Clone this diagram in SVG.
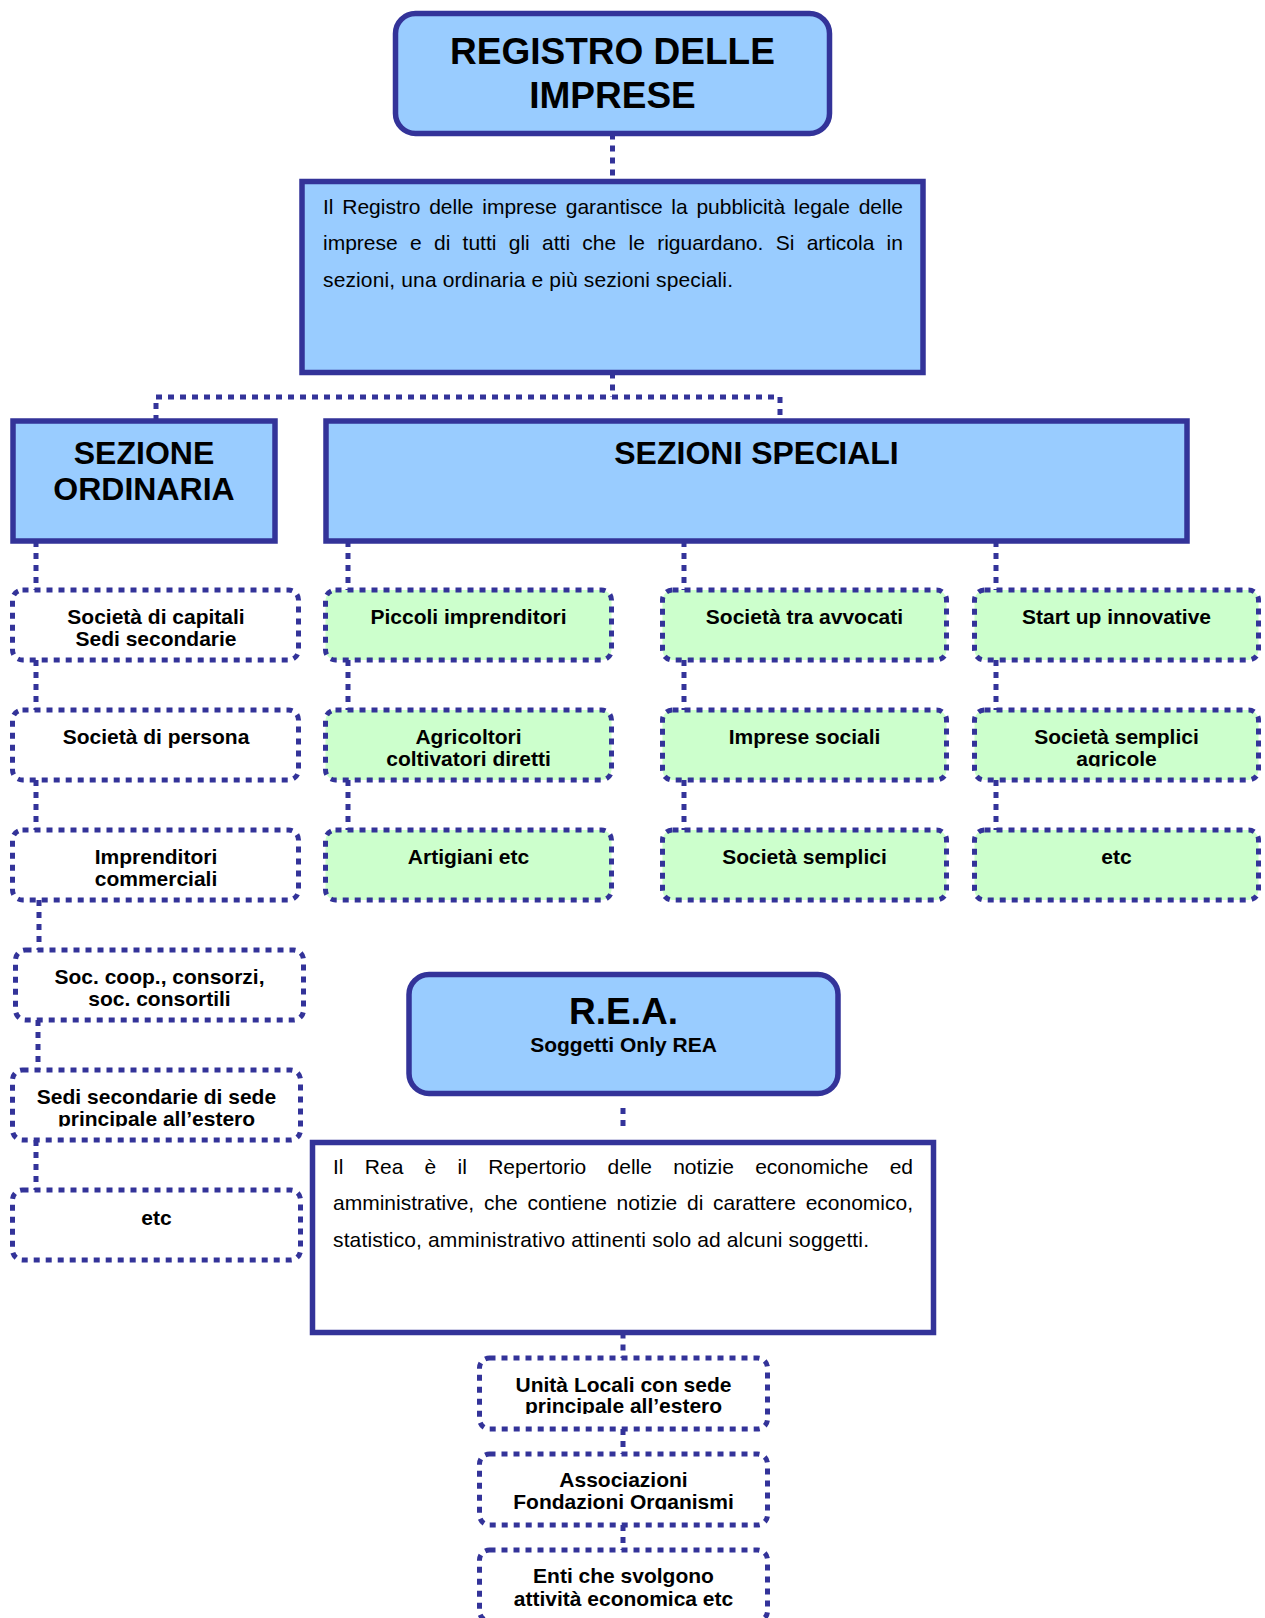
<svg xmlns="http://www.w3.org/2000/svg" width="1265" height="1618" viewBox="0 0 1265 1618">
<style>
.blue{fill:#99CCFF;stroke:#333399;stroke-width:5.5}
.wsq{fill:#FFFFFF;stroke:#333399;stroke-width:5.5}
.dot{fill:none;stroke:#333399;stroke-width:5;stroke-dasharray:6 6}
.wb{fill:#FFFFFF}
.gb{fill:#CCFFCC}
.t{font-family:"Liberation Sans",Arial,sans-serif;font-weight:bold;font-size:21px;text-anchor:middle;fill:#000}
.h{font-family:"Liberation Sans",Arial,sans-serif;font-weight:bold;text-anchor:middle;fill:#000}
.p{font-family:"Liberation Sans",Arial,sans-serif;font-size:21px;fill:#000}
</style>
<defs>
<clipPath id="c1"><rect x="12" y="590" width="288" height="56.5"/></clipPath>
<clipPath id="c2"><rect x="325" y="710" width="288" height="56.5"/></clipPath>
<clipPath id="c3"><rect x="974" y="710" width="288" height="56.5"/></clipPath>
<clipPath id="c4"><rect x="15" y="950" width="290" height="56.5"/></clipPath>
<clipPath id="c5"><rect x="12" y="1070" width="290" height="56.5"/></clipPath>
<clipPath id="c6"><rect x="479" y="1358" width="290" height="56"/></clipPath>
<clipPath id="c7"><rect x="479" y="1454" width="290" height="55.5"/></clipPath>
</defs>
<rect width="1265" height="1618" fill="#FFFFFF"/>
<g id="connectors">
<path class="dot" d="M612.5 133.5V181.5"/>
<path class="dot" d="M612.5 372.5V397"/>
<path class="dot" d="M156 421V397H780V421"/>
<path class="dot" d="M36 541V590M36 660V710M36 780V830M39 900V950M38 1020V1070M36 1140V1190"/>
<path class="dot" d="M348 541V590M348 660V710M348 780V830"/>
<path class="dot" d="M684 541V590M684 660V710M684 780V830"/>
<path class="dot" d="M996 541V590M996 660V710M996 780V830"/>
<path class="dot" d="M623 1108V1126"/>
<path class="dot" d="M623 1332.5V1358M623 1429V1454M623 1525V1550"/>
</g>
<g id="registro">
<rect class="blue" x="395.5" y="13.5" width="434" height="120" rx="20"/>
<text class="h" font-size="37" x="612.5" y="64">REGISTRO DELLE</text>
<text class="h" font-size="37" x="612.5" y="108">IMPRESE</text>
</g>
<g id="registro-desc">
<rect class="blue" x="302" y="181.5" width="621" height="191"/>
<text class="p" y="214"><tspan x="323">Il</tspan><tspan x="342.25">Registro</tspan><tspan x="429.18">delle</tspan><tspan x="482.28">imprese</tspan><tspan x="565.71">garantisce</tspan><tspan x="671.33">la</tspan><tspan x="696.42">pubblicità</tspan><tspan x="793.87">legale</tspan><tspan x="858.65">delle</tspan></text>
<text class="p" y="250"><tspan x="323">imprese</tspan><tspan x="409.98">e</tspan><tspan x="433.96">di</tspan><tspan x="462.6">tutti</tspan><tspan x="508.75">gli</tspan><tspan x="542.05">atti</tspan><tspan x="582.36">che</tspan><tspan x="628.51">le</tspan><tspan x="657.15">riguardano.</tspan><tspan x="775.67">Si</tspan><tspan x="806.64">articola</tspan><tspan x="886.62">in</tspan></text>
<text class="p" x="323" y="287" textLength="410" lengthAdjust="spacing">sezioni, una ordinaria e più sezioni speciali.</text>
</g>
<g id="sezione-ordinaria">
<rect class="blue" x="13" y="421" width="262" height="120"/>
<text class="h" font-size="32" x="144" y="464">SEZIONE</text>
<text class="h" font-size="32" x="144" y="500">ORDINARIA</text>
</g>
<g id="sezioni-speciali">
<rect class="blue" x="326" y="421" width="861" height="120"/>
<text class="h" font-size="32" x="756.5" y="464">SEZIONI SPECIALI</text>
</g>
<g id="o1">
<rect class="dot wb" x="12.5" y="590" width="286" height="70" rx="10"/>
<text class="t" x="156" y="624">Società di capitali</text>
<text class="t" x="156" y="646" clip-path="url(#c1)">Sedi secondarie</text>
</g>
<g id="o2">
<rect class="dot wb" x="12.5" y="710" width="286" height="70" rx="10"/>
<text class="t" x="156" y="744">Società di persona</text>
</g>
<g id="o3">
<rect class="dot wb" x="12.5" y="830" width="286" height="70" rx="10"/>
<text class="t" x="156" y="864">Imprenditori</text>
<text class="t" x="156" y="886">commerciali</text>
</g>
<g id="o4">
<rect class="dot wb" x="15.5" y="950" width="288" height="70" rx="10"/>
<text class="t" x="159.5" y="984">Soc. coop., consorzi,</text>
<text class="t" x="159.5" y="1006" clip-path="url(#c4)">soc. consortili</text>
</g>
<g id="o5">
<rect class="dot wb" x="12.5" y="1070" width="288" height="70" rx="10"/>
<text class="t" x="156.5" y="1104">Sedi secondarie di sede</text>
<text class="t" x="156.5" y="1126" clip-path="url(#c5)">principale all’estero</text>
</g>
<g id="o6">
<rect class="dot wb" x="12.5" y="1190" width="288" height="70" rx="10"/>
<text class="t" x="156.5" y="1225">etc</text>
</g>
<g id="s1">
<rect class="dot gb" x="325.5" y="590" width="286" height="70" rx="10"/>
<text class="t" x="468.5" y="624">Piccoli imprenditori</text>
</g>
<g id="s2">
<rect class="dot gb" x="325.5" y="710" width="286" height="70" rx="10"/>
<text class="t" x="468.5" y="744">Agricoltori</text>
<text class="t" x="468.5" y="766" clip-path="url(#c2)">coltivatori diretti</text>
</g>
<g id="s3">
<rect class="dot gb" x="325.5" y="830" width="286" height="70" rx="10"/>
<text class="t" x="468.5" y="864">Artigiani etc</text>
</g>
<g id="s4">
<rect class="dot gb" x="662.5" y="590" width="284" height="70" rx="10"/>
<text class="t" x="804.5" y="624">Società tra avvocati</text>
</g>
<g id="s5">
<rect class="dot gb" x="662.5" y="710" width="284" height="70" rx="10"/>
<text class="t" x="804.5" y="744">Imprese sociali</text>
</g>
<g id="s6">
<rect class="dot gb" x="662.5" y="830" width="284" height="70" rx="10"/>
<text class="t" x="804.5" y="864">Società semplici</text>
</g>
<g id="s7">
<rect class="dot gb" x="974.5" y="590" width="284" height="70" rx="10"/>
<text class="t" x="1116.5" y="624">Start up innovative</text>
</g>
<g id="s8">
<rect class="dot gb" x="974.5" y="710" width="284" height="70" rx="10"/>
<text class="t" x="1116.5" y="744">Società semplici</text>
<text class="t" x="1116.5" y="766" clip-path="url(#c3)">agricole</text>
</g>
<g id="s9">
<rect class="dot gb" x="974.5" y="830" width="284" height="70" rx="10"/>
<text class="t" x="1116.5" y="864">etc</text>
</g>
<g id="rea">
<rect class="blue" x="409" y="974.5" width="429" height="119" rx="20"/>
<text class="h" font-size="37" x="623.5" y="1024">R.E.A.</text>
<text class="t" x="623.5" y="1052">Soggetti Only REA</text>
</g>
<g id="rea-desc">
<rect class="wsq" x="312.5" y="1142.5" width="621" height="190"/>
<text class="p" y="1174"><tspan x="333">Il</tspan><tspan x="364.8">Rea</tspan><tspan x="424.61">è</tspan><tspan x="457.59">il</tspan><tspan x="488.21">Repertorio</tspan><tspan x="607.54">delle</tspan><tspan x="673.19">notizie</tspan><tspan x="755.18">economiche</tspan><tspan x="889.69">ed</tspan></text>
<text class="p" y="1210"><tspan x="333">amministrative,</tspan><tspan x="483.9">che</tspan><tspan x="527.47">contiene</tspan><tspan x="616.57">notizie</tspan><tspan x="686.98">di</tspan><tspan x="713.04">carattere</tspan><tspan x="805.63">economico,</tspan></text>
<text class="p" x="333" y="1247" textLength="536" lengthAdjust="spacing">statistico, amministrativo attinenti solo ad alcuni soggetti.</text>
</g>
<g id="r1">
<rect class="dot wb" x="479.5" y="1358" width="288" height="71" rx="10"/>
<text class="t" x="623.5" y="1392">Unità Locali con sede</text>
<text class="t" x="623.5" y="1413" clip-path="url(#c6)">principale all’estero</text>
</g>
<g id="r2">
<rect class="dot wb" x="479.5" y="1454" width="288" height="71" rx="10"/>
<text class="t" x="623.5" y="1487">Associazioni</text>
<text class="t" x="623.5" y="1509" clip-path="url(#c7)">Fondazioni Organismi</text>
</g>
<g id="r3">
<rect class="dot wb" x="479.5" y="1550" width="288" height="71" rx="10"/>
<text class="t" x="623.5" y="1583">Enti che svolgono</text>
<text class="t" x="623.5" y="1606">attività economica etc</text>
</g>
</svg>
